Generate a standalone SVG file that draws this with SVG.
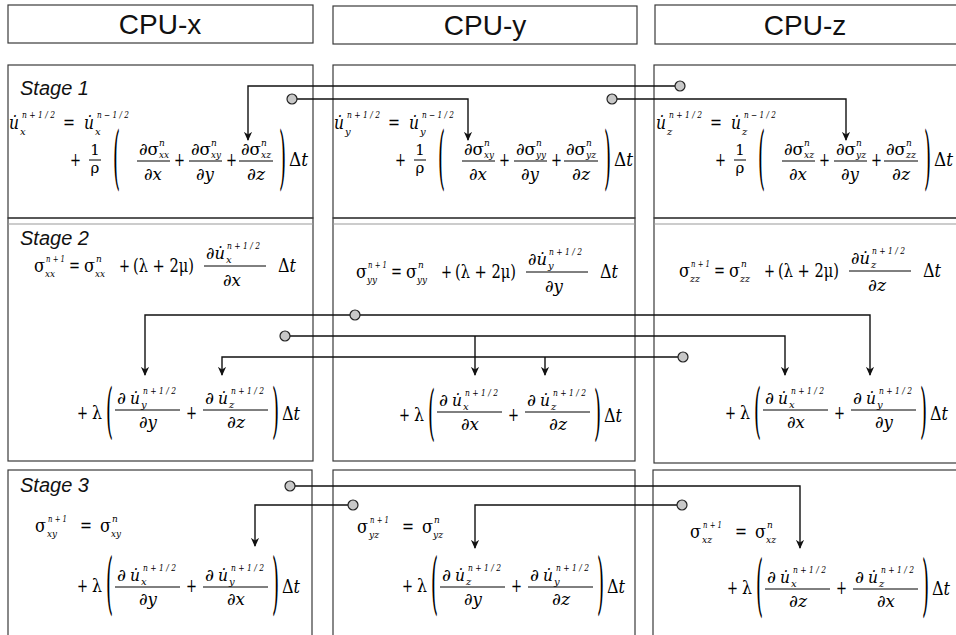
<svg xmlns="http://www.w3.org/2000/svg" width="956" height="635" viewBox="0 0 956 635">
<style>
.bx{fill:none;stroke:#3a3a3a;stroke-width:1.2}
.dl{stroke:#9a9a9a;stroke-width:1.2}
.hd{font-family:"Liberation Sans",Arial,sans-serif;font-size:28px;fill:#111}
.st{font-family:"Liberation Sans",Arial,sans-serif;font-size:20px;font-style:italic;fill:#111}
.m{font-family:"DejaVu Serif",serif;font-size:18px;fill:#000}
.f{font-family:"DejaVu Serif",serif;font-size:17px;fill:#000}
.i{font-style:italic}
.sp{font-family:"DejaVu Serif",serif;font-size:9px;font-style:italic;fill:#000}
.sb{font-family:"DejaVu Serif",serif;font-size:10px;font-style:italic;fill:#000}
.fb{stroke:#000;stroke-width:1}
.cn{fill:none;stroke:#111;stroke-width:1.4;marker-end:url(#ah)}
.cd{fill:#c8c8c8;stroke:#222;stroke-width:1.2}
</style>
<defs>
<marker id="ah" viewBox="0 0 10 10" refX="9" refY="5" markerWidth="9" markerHeight="10" markerUnits="userSpaceOnUse" orient="auto"><path d="M0,0.5 L10,5 L0,9.5 L3,5 z" fill="#111"/></marker>
</defs>
<rect width="956" height="635" fill="#fff"/>

<g id="hdr-x"><rect class="bx" x="8" y="5" width="305" height="38"/><text class="hd" x="160" y="34" text-anchor="middle">CPU-x</text></g>
<g id="hdr-y"><rect class="bx" x="333" y="6" width="304" height="38"/><text class="hd" x="485" y="35" text-anchor="middle">CPU-y</text></g>
<g id="hdr-z"><rect class="bx" x="655" y="5" width="310" height="39"/><text class="hd" x="805" y="35" text-anchor="middle">CPU-z</text></g>

<!-- Stage 1 -->
<g id="s1-x">
<rect class="bx" x="8" y="65" width="305" height="153"/>
<text class="st" x="20" y="95">Stage 1</text>
<g>
<text class="m i" x="9" y="129" textLength="10" lengthAdjust="spacingAndGlyphs">u&#x307;</text><text class="sp" x="22" y="118" textLength="33" lengthAdjust="spacingAndGlyphs">n + 1 / 2</text><text class="sb" x="20" y="135">x</text>
<text class="m" x="63" y="129" textLength="12" lengthAdjust="spacingAndGlyphs">=</text>
<text class="m i" x="84" y="129" textLength="10" lengthAdjust="spacingAndGlyphs">u&#x307;</text><text class="sp" x="97" y="118" textLength="32" lengthAdjust="spacingAndGlyphs">n − 1 / 2</text><text class="sb" x="95" y="135">x</text>
<text class="m" x="70" y="166" textLength="11" lengthAdjust="spacingAndGlyphs">+</text>
<text class="m" x="95" y="155" text-anchor="middle" style="font-size:15px">1</text><line class="fb" x1="89" y1="160" x2="101" y2="160"/><text class="m" x="95" y="173" text-anchor="middle" style="font-size:15px">ρ</text>
<text class="m" transform="translate(113,160) scale(1,3.8)" y="5.6">(</text>
<text class="f" x="139" y="155" textLength="20" lengthAdjust="spacingAndGlyphs">∂σ</text><text class="sp" x="159" y="146">n</text><text class="sb" x="159" y="158" textLength="10" lengthAdjust="spacingAndGlyphs">xx</text><line class="fb" x1="137" y1="161" x2="170" y2="161"/><text class="f" x="153" y="180" text-anchor="middle" textLength="18" lengthAdjust="spacingAndGlyphs">∂<tspan class="i">x</tspan></text>
<text class="m" x="174" y="166" textLength="11" lengthAdjust="spacingAndGlyphs">+</text>
<text class="f" x="191" y="155" textLength="20" lengthAdjust="spacingAndGlyphs">∂σ</text><text class="sp" x="211" y="146">n</text><text class="sb" x="211" y="158" textLength="10" lengthAdjust="spacingAndGlyphs">xy</text><line class="fb" x1="189" y1="161" x2="222" y2="161"/><text class="f" x="205" y="180" text-anchor="middle" textLength="18" lengthAdjust="spacingAndGlyphs">∂<tspan class="i">y</tspan></text>
<text class="m" x="226" y="166" textLength="11" lengthAdjust="spacingAndGlyphs">+</text>
<text class="f" x="241" y="155" textLength="20" lengthAdjust="spacingAndGlyphs">∂σ</text><text class="sp" x="261" y="146">n</text><text class="sb" x="261" y="158" textLength="10" lengthAdjust="spacingAndGlyphs">xz</text><line class="fb" x1="239" y1="161" x2="273" y2="161"/><text class="f" x="256" y="180" text-anchor="middle" textLength="18" lengthAdjust="spacingAndGlyphs">∂<tspan class="i">z</tspan></text>
<text class="m" transform="translate(279,160) scale(1,3.8)" y="5.6">)</text>
<text class="m" x="289" y="166" textLength="19" lengthAdjust="spacingAndGlyphs">Δ<tspan class="i">t</tspan></text>
</g>
</g>

<g id="s1-y">
<rect class="bx" x="333" y="65" width="302" height="153"/>
<g transform="translate(325,0)">
<text class="m i" x="9" y="129" textLength="10" lengthAdjust="spacingAndGlyphs">u&#x307;</text><text class="sp" x="22" y="118" textLength="33" lengthAdjust="spacingAndGlyphs">n + 1 / 2</text><text class="sb" x="20" y="135">y</text>
<text class="m" x="63" y="129" textLength="12" lengthAdjust="spacingAndGlyphs">=</text>
<text class="m i" x="84" y="129" textLength="10" lengthAdjust="spacingAndGlyphs">u&#x307;</text><text class="sp" x="97" y="118" textLength="32" lengthAdjust="spacingAndGlyphs">n − 1 / 2</text><text class="sb" x="95" y="135">y</text>
<text class="m" x="70" y="166" textLength="11" lengthAdjust="spacingAndGlyphs">+</text>
<text class="m" x="95" y="155" text-anchor="middle" style="font-size:15px">1</text><line class="fb" x1="89" y1="160" x2="101" y2="160"/><text class="m" x="95" y="173" text-anchor="middle" style="font-size:15px">ρ</text>
<text class="m" transform="translate(113,160) scale(1,3.8)" y="5.6">(</text>
<text class="f" x="139" y="155" textLength="20" lengthAdjust="spacingAndGlyphs">∂σ</text><text class="sp" x="159" y="146">n</text><text class="sb" x="159" y="158" textLength="10" lengthAdjust="spacingAndGlyphs">xy</text><line class="fb" x1="137" y1="161" x2="170" y2="161"/><text class="f" x="153" y="180" text-anchor="middle" textLength="18" lengthAdjust="spacingAndGlyphs">∂<tspan class="i">x</tspan></text>
<text class="m" x="174" y="166" textLength="11" lengthAdjust="spacingAndGlyphs">+</text>
<text class="f" x="191" y="155" textLength="20" lengthAdjust="spacingAndGlyphs">∂σ</text><text class="sp" x="211" y="146">n</text><text class="sb" x="211" y="158" textLength="10" lengthAdjust="spacingAndGlyphs">yy</text><line class="fb" x1="189" y1="161" x2="222" y2="161"/><text class="f" x="205" y="180" text-anchor="middle" textLength="18" lengthAdjust="spacingAndGlyphs">∂<tspan class="i">y</tspan></text>
<text class="m" x="226" y="166" textLength="11" lengthAdjust="spacingAndGlyphs">+</text>
<text class="f" x="241" y="155" textLength="20" lengthAdjust="spacingAndGlyphs">∂σ</text><text class="sp" x="261" y="146">n</text><text class="sb" x="261" y="158" textLength="10" lengthAdjust="spacingAndGlyphs">yz</text><line class="fb" x1="239" y1="161" x2="273" y2="161"/><text class="f" x="256" y="180" text-anchor="middle" textLength="18" lengthAdjust="spacingAndGlyphs">∂<tspan class="i">z</tspan></text>
<text class="m" transform="translate(279,160) scale(1,3.8)" y="5.6">)</text>
<text class="m" x="289" y="166" textLength="19" lengthAdjust="spacingAndGlyphs">Δ<tspan class="i">t</tspan></text>
</g>
</g>

<g id="s1-z">
<rect class="bx" x="654" y="65" width="310" height="153"/>
<g transform="translate(645,0)">
<text class="m i" x="11" y="129" textLength="10" lengthAdjust="spacingAndGlyphs">u&#x307;</text><text class="sp" x="24" y="118" textLength="33" lengthAdjust="spacingAndGlyphs">n + 1 / 2</text><text class="sb" x="22" y="135">z</text>
<text class="m" x="65" y="129" textLength="12" lengthAdjust="spacingAndGlyphs">=</text>
<text class="m i" x="86" y="129" textLength="10" lengthAdjust="spacingAndGlyphs">u&#x307;</text><text class="sp" x="99" y="118" textLength="32" lengthAdjust="spacingAndGlyphs">n − 1 / 2</text><text class="sb" x="97" y="135">z</text>
<text class="m" x="70" y="166" textLength="11" lengthAdjust="spacingAndGlyphs">+</text>
<text class="m" x="95" y="155" text-anchor="middle" style="font-size:15px">1</text><line class="fb" x1="89" y1="160" x2="101" y2="160"/><text class="m" x="95" y="173" text-anchor="middle" style="font-size:15px">ρ</text>
<text class="m" transform="translate(113,160) scale(1,3.8)" y="5.6">(</text>
<text class="f" x="139" y="155" textLength="20" lengthAdjust="spacingAndGlyphs">∂σ</text><text class="sp" x="159" y="146">n</text><text class="sb" x="159" y="158" textLength="10" lengthAdjust="spacingAndGlyphs">xz</text><line class="fb" x1="137" y1="161" x2="170" y2="161"/><text class="f" x="153" y="180" text-anchor="middle" textLength="18" lengthAdjust="spacingAndGlyphs">∂<tspan class="i">x</tspan></text>
<text class="m" x="174" y="166" textLength="11" lengthAdjust="spacingAndGlyphs">+</text>
<text class="f" x="191" y="155" textLength="20" lengthAdjust="spacingAndGlyphs">∂σ</text><text class="sp" x="211" y="146">n</text><text class="sb" x="211" y="158" textLength="10" lengthAdjust="spacingAndGlyphs">yz</text><line class="fb" x1="189" y1="161" x2="222" y2="161"/><text class="f" x="205" y="180" text-anchor="middle" textLength="18" lengthAdjust="spacingAndGlyphs">∂<tspan class="i">y</tspan></text>
<text class="m" x="226" y="166" textLength="11" lengthAdjust="spacingAndGlyphs">+</text>
<text class="f" x="241" y="155" textLength="20" lengthAdjust="spacingAndGlyphs">∂σ</text><text class="sp" x="261" y="146">n</text><text class="sb" x="261" y="158" textLength="10" lengthAdjust="spacingAndGlyphs">zz</text><line class="fb" x1="239" y1="161" x2="273" y2="161"/><text class="f" x="256" y="180" text-anchor="middle" textLength="18" lengthAdjust="spacingAndGlyphs">∂<tspan class="i">z</tspan></text>
<text class="m" transform="translate(279,160) scale(1,3.8)" y="5.6">)</text>
<text class="m" x="289" y="166" textLength="19" lengthAdjust="spacingAndGlyphs">Δ<tspan class="i">t</tspan></text>
</g>
</g>

<!-- Stage 2 -->
<g id="s2-x">
<rect class="bx" x="8" y="218" width="305" height="243"/><line class="dl" x1="8" y1="224" x2="313" y2="224"/>
<text class="st" x="20" y="245">Stage 2</text>
<g>
<text class="m" x="34" y="272" textLength="11" lengthAdjust="spacingAndGlyphs">σ</text><text class="sp" x="46" y="262" textLength="19" lengthAdjust="spacingAndGlyphs">n + 1</text><text class="sb" x="45" y="277" textLength="10" lengthAdjust="spacingAndGlyphs">xx</text>
<text class="m" x="69" y="272" textLength="11" lengthAdjust="spacingAndGlyphs">=</text>
<text class="m" x="84" y="272" textLength="11" lengthAdjust="spacingAndGlyphs">σ</text><text class="sp" x="96" y="262">n</text><text class="sb" x="95" y="277" textLength="10" lengthAdjust="spacingAndGlyphs">xx</text>
<text class="m" x="119" y="272" textLength="11" lengthAdjust="spacingAndGlyphs">+</text>
<text class="m" x="133" y="272" textLength="61" lengthAdjust="spacingAndGlyphs">(λ + 2μ)</text>
<text class="f" x="206" y="259" textLength="19" lengthAdjust="spacingAndGlyphs">∂<tspan class="i">u&#x307;</tspan></text><text class="sp" x="227" y="249" textLength="33" lengthAdjust="spacingAndGlyphs">n + 1 / 2</text><text class="sb" x="226" y="263">x</text>
<line class="fb" x1="204" y1="266" x2="266" y2="266"/><text class="f" x="232" y="286" text-anchor="middle" textLength="18" lengthAdjust="spacingAndGlyphs">∂<tspan class="i">x</tspan></text>
<text class="m" x="278" y="272" textLength="18" lengthAdjust="spacingAndGlyphs">Δ<tspan class="i">t</tspan></text>
</g>
<g>
<text class="m" x="77" y="419" textLength="11" lengthAdjust="spacingAndGlyphs">+</text><text class="m" x="92" y="419" textLength="10" lengthAdjust="spacingAndGlyphs">λ</text>
<text class="m" transform="translate(106,413) scale(1,3.3)" y="5.6">(</text>
<text class="f" x="117" y="404" textLength="9" lengthAdjust="spacingAndGlyphs">∂</text><text class="f i" x="130" y="404" textLength="10" lengthAdjust="spacingAndGlyphs">u&#x307;</text><text class="sp" x="143" y="394" textLength="33" lengthAdjust="spacingAndGlyphs">n + 1 / 2</text><text class="sb" x="141" y="408">y</text>
<line class="fb" x1="115" y1="410" x2="180" y2="410"/><text class="f" x="148" y="428" text-anchor="middle" textLength="18" lengthAdjust="spacingAndGlyphs">∂<tspan class="i">y</tspan></text>
<text class="m" x="186" y="419" textLength="11" lengthAdjust="spacingAndGlyphs">+</text>
<text class="f" x="205" y="404" textLength="9" lengthAdjust="spacingAndGlyphs">∂</text><text class="f i" x="218" y="404" textLength="10" lengthAdjust="spacingAndGlyphs">u&#x307;</text><text class="sp" x="231" y="394" textLength="33" lengthAdjust="spacingAndGlyphs">n + 1 / 2</text><text class="sb" x="229" y="408">z</text>
<line class="fb" x1="203" y1="410" x2="268" y2="410"/><text class="f" x="236" y="428" text-anchor="middle" textLength="18" lengthAdjust="spacingAndGlyphs">∂<tspan class="i">z</tspan></text>
<text class="m" transform="translate(272,413) scale(1,3.3)" y="5.6">)</text>
<text class="m" x="282" y="420" textLength="18" lengthAdjust="spacingAndGlyphs">Δ<tspan class="i">t</tspan></text>
</g>
</g>

<g id="s2-y">
<rect class="bx" x="333" y="218" width="302" height="243"/><line class="dl" x1="333" y1="224" x2="635" y2="224"/>
<g transform="translate(322,6)">
<text class="m" x="34" y="272" textLength="11" lengthAdjust="spacingAndGlyphs">σ</text><text class="sp" x="46" y="262" textLength="19" lengthAdjust="spacingAndGlyphs">n + 1</text><text class="sb" x="45" y="277" textLength="10" lengthAdjust="spacingAndGlyphs">yy</text>
<text class="m" x="69" y="272" textLength="11" lengthAdjust="spacingAndGlyphs">=</text>
<text class="m" x="84" y="272" textLength="11" lengthAdjust="spacingAndGlyphs">σ</text><text class="sp" x="96" y="262">n</text><text class="sb" x="95" y="277" textLength="10" lengthAdjust="spacingAndGlyphs">yy</text>
<text class="m" x="119" y="272" textLength="11" lengthAdjust="spacingAndGlyphs">+</text>
<text class="m" x="133" y="272" textLength="61" lengthAdjust="spacingAndGlyphs">(λ + 2μ)</text>
<text class="f" x="206" y="259" textLength="19" lengthAdjust="spacingAndGlyphs">∂<tspan class="i">u&#x307;</tspan></text><text class="sp" x="227" y="249" textLength="33" lengthAdjust="spacingAndGlyphs">n + 1 / 2</text><text class="sb" x="226" y="263">y</text>
<line class="fb" x1="204" y1="266" x2="266" y2="266"/><text class="f" x="232" y="286" text-anchor="middle" textLength="18" lengthAdjust="spacingAndGlyphs">∂<tspan class="i">y</tspan></text>
<text class="m" x="278" y="272" textLength="18" lengthAdjust="spacingAndGlyphs">Δ<tspan class="i">t</tspan></text>
</g>
<g transform="translate(322,2)">
<text class="m" x="77" y="419" textLength="11" lengthAdjust="spacingAndGlyphs">+</text><text class="m" x="92" y="419" textLength="10" lengthAdjust="spacingAndGlyphs">λ</text>
<text class="m" transform="translate(106,413) scale(1,3.3)" y="5.6">(</text>
<text class="f" x="117" y="404" textLength="9" lengthAdjust="spacingAndGlyphs">∂</text><text class="f i" x="130" y="404" textLength="10" lengthAdjust="spacingAndGlyphs">u&#x307;</text><text class="sp" x="143" y="394" textLength="33" lengthAdjust="spacingAndGlyphs">n + 1 / 2</text><text class="sb" x="141" y="408">x</text>
<line class="fb" x1="115" y1="410" x2="180" y2="410"/><text class="f" x="148" y="428" text-anchor="middle" textLength="18" lengthAdjust="spacingAndGlyphs">∂<tspan class="i">x</tspan></text>
<text class="m" x="186" y="419" textLength="11" lengthAdjust="spacingAndGlyphs">+</text>
<text class="f" x="205" y="404" textLength="9" lengthAdjust="spacingAndGlyphs">∂</text><text class="f i" x="218" y="404" textLength="10" lengthAdjust="spacingAndGlyphs">u&#x307;</text><text class="sp" x="231" y="394" textLength="33" lengthAdjust="spacingAndGlyphs">n + 1 / 2</text><text class="sb" x="229" y="408">z</text>
<line class="fb" x1="203" y1="410" x2="268" y2="410"/><text class="f" x="236" y="428" text-anchor="middle" textLength="18" lengthAdjust="spacingAndGlyphs">∂<tspan class="i">z</tspan></text>
<text class="m" transform="translate(272,413) scale(1,3.3)" y="5.6">)</text>
<text class="m" x="282" y="420" textLength="18" lengthAdjust="spacingAndGlyphs">Δ<tspan class="i">t</tspan></text>
</g>
</g>

<g id="s2-z">
<rect class="bx" x="654" y="218" width="310" height="245"/><line class="dl" x1="654" y1="224" x2="956" y2="224"/>
<g transform="translate(645,5)">
<text class="m" x="34" y="272" textLength="11" lengthAdjust="spacingAndGlyphs">σ</text><text class="sp" x="46" y="262" textLength="19" lengthAdjust="spacingAndGlyphs">n + 1</text><text class="sb" x="45" y="277" textLength="10" lengthAdjust="spacingAndGlyphs">zz</text>
<text class="m" x="69" y="272" textLength="11" lengthAdjust="spacingAndGlyphs">=</text>
<text class="m" x="84" y="272" textLength="11" lengthAdjust="spacingAndGlyphs">σ</text><text class="sp" x="96" y="262">n</text><text class="sb" x="95" y="277" textLength="10" lengthAdjust="spacingAndGlyphs">zz</text>
<text class="m" x="119" y="272" textLength="11" lengthAdjust="spacingAndGlyphs">+</text>
<text class="m" x="133" y="272" textLength="61" lengthAdjust="spacingAndGlyphs">(λ + 2μ)</text>
<text class="f" x="206" y="259" textLength="19" lengthAdjust="spacingAndGlyphs">∂<tspan class="i">u&#x307;</tspan></text><text class="sp" x="227" y="249" textLength="33" lengthAdjust="spacingAndGlyphs">n + 1 / 2</text><text class="sb" x="226" y="263">z</text>
<line class="fb" x1="204" y1="266" x2="266" y2="266"/><text class="f" x="232" y="286" text-anchor="middle" textLength="18" lengthAdjust="spacingAndGlyphs">∂<tspan class="i">z</tspan></text>
<text class="m" x="278" y="272" textLength="18" lengthAdjust="spacingAndGlyphs">Δ<tspan class="i">t</tspan></text>
</g>
<g transform="translate(648,0)">
<text class="m" x="77" y="419" textLength="11" lengthAdjust="spacingAndGlyphs">+</text><text class="m" x="92" y="419" textLength="10" lengthAdjust="spacingAndGlyphs">λ</text>
<text class="m" transform="translate(106,413) scale(1,3.3)" y="5.6">(</text>
<text class="f" x="117" y="404" textLength="9" lengthAdjust="spacingAndGlyphs">∂</text><text class="f i" x="130" y="404" textLength="10" lengthAdjust="spacingAndGlyphs">u&#x307;</text><text class="sp" x="143" y="394" textLength="33" lengthAdjust="spacingAndGlyphs">n + 1 / 2</text><text class="sb" x="141" y="408">x</text>
<line class="fb" x1="115" y1="410" x2="180" y2="410"/><text class="f" x="148" y="428" text-anchor="middle" textLength="18" lengthAdjust="spacingAndGlyphs">∂<tspan class="i">x</tspan></text>
<text class="m" x="186" y="419" textLength="11" lengthAdjust="spacingAndGlyphs">+</text>
<text class="f" x="205" y="404" textLength="9" lengthAdjust="spacingAndGlyphs">∂</text><text class="f i" x="218" y="404" textLength="10" lengthAdjust="spacingAndGlyphs">u&#x307;</text><text class="sp" x="231" y="394" textLength="33" lengthAdjust="spacingAndGlyphs">n + 1 / 2</text><text class="sb" x="229" y="408">y</text>
<line class="fb" x1="203" y1="410" x2="268" y2="410"/><text class="f" x="236" y="428" text-anchor="middle" textLength="18" lengthAdjust="spacingAndGlyphs">∂<tspan class="i">y</tspan></text>
<text class="m" transform="translate(272,413) scale(1,3.3)" y="5.6">)</text>
<text class="m" x="282" y="420" textLength="18" lengthAdjust="spacingAndGlyphs">Δ<tspan class="i">t</tspan></text>
</g>
</g>

<!-- Stage 3 -->
<g id="s3-x">
<rect class="bx" x="8" y="470" width="304" height="200"/>
<text class="st" x="20" y="492">Stage 3</text>
<g>
<text class="m" x="35" y="532" textLength="11" lengthAdjust="spacingAndGlyphs">σ</text><text class="sp" x="48" y="522" textLength="19" lengthAdjust="spacingAndGlyphs">n + 1</text><text class="sb" x="47" y="537" textLength="10" lengthAdjust="spacingAndGlyphs">xy</text>
<text class="m" x="80" y="532" textLength="12" lengthAdjust="spacingAndGlyphs">=</text>
<text class="m" x="100" y="532" textLength="11" lengthAdjust="spacingAndGlyphs">σ</text><text class="sp" x="112" y="522">n</text><text class="sb" x="111" y="537" textLength="10" lengthAdjust="spacingAndGlyphs">xy</text>
</g>
<g transform="translate(0,177)">
<text class="m" x="77" y="415" textLength="11" lengthAdjust="spacingAndGlyphs">+</text><text class="m" x="92" y="415" textLength="10" lengthAdjust="spacingAndGlyphs">λ</text>
<text class="m" transform="translate(106,408) scale(1,3.7)" y="5.6">(</text>
<text class="f" x="117" y="404" textLength="9" lengthAdjust="spacingAndGlyphs">∂</text><text class="f i" x="130" y="404" textLength="10" lengthAdjust="spacingAndGlyphs">u&#x307;</text><text class="sp" x="143" y="394" textLength="33" lengthAdjust="spacingAndGlyphs">n + 1 / 2</text><text class="sb" x="141" y="408">x</text>
<line class="fb" x1="115" y1="410" x2="180" y2="410"/><text class="f" x="148" y="428" text-anchor="middle" textLength="18" lengthAdjust="spacingAndGlyphs">∂<tspan class="i">y</tspan></text>
<text class="m" x="186" y="415" textLength="11" lengthAdjust="spacingAndGlyphs">+</text>
<text class="f" x="205" y="404" textLength="9" lengthAdjust="spacingAndGlyphs">∂</text><text class="f i" x="218" y="404" textLength="10" lengthAdjust="spacingAndGlyphs">u&#x307;</text><text class="sp" x="231" y="394" textLength="33" lengthAdjust="spacingAndGlyphs">n + 1 / 2</text><text class="sb" x="229" y="408">y</text>
<line class="fb" x1="203" y1="410" x2="268" y2="410"/><text class="f" x="236" y="428" text-anchor="middle" textLength="18" lengthAdjust="spacingAndGlyphs">∂<tspan class="i">x</tspan></text>
<text class="m" transform="translate(272,408) scale(1,3.7)" y="5.6">)</text>
<text class="m" x="282" y="416" textLength="18" lengthAdjust="spacingAndGlyphs">Δ<tspan class="i">t</tspan></text>
</g>
</g>

<g id="s3-y">
<rect class="bx" x="333" y="470" width="302" height="200"/>
<g transform="translate(322,1)">
<text class="m" x="35" y="532" textLength="11" lengthAdjust="spacingAndGlyphs">σ</text><text class="sp" x="48" y="522" textLength="19" lengthAdjust="spacingAndGlyphs">n + 1</text><text class="sb" x="47" y="537" textLength="10" lengthAdjust="spacingAndGlyphs">yz</text>
<text class="m" x="80" y="532" textLength="12" lengthAdjust="spacingAndGlyphs">=</text>
<text class="m" x="100" y="532" textLength="11" lengthAdjust="spacingAndGlyphs">σ</text><text class="sp" x="112" y="522">n</text><text class="sb" x="111" y="537" textLength="10" lengthAdjust="spacingAndGlyphs">yz</text>
</g>
<g transform="translate(325,177)">
<text class="m" x="77" y="415" textLength="11" lengthAdjust="spacingAndGlyphs">+</text><text class="m" x="92" y="415" textLength="10" lengthAdjust="spacingAndGlyphs">λ</text>
<text class="m" transform="translate(106,408) scale(1,3.7)" y="5.6">(</text>
<text class="f" x="117" y="404" textLength="9" lengthAdjust="spacingAndGlyphs">∂</text><text class="f i" x="130" y="404" textLength="10" lengthAdjust="spacingAndGlyphs">u&#x307;</text><text class="sp" x="143" y="394" textLength="33" lengthAdjust="spacingAndGlyphs">n + 1 / 2</text><text class="sb" x="141" y="408">z</text>
<line class="fb" x1="115" y1="410" x2="180" y2="410"/><text class="f" x="148" y="428" text-anchor="middle" textLength="18" lengthAdjust="spacingAndGlyphs">∂<tspan class="i">y</tspan></text>
<text class="m" x="186" y="415" textLength="11" lengthAdjust="spacingAndGlyphs">+</text>
<text class="f" x="205" y="404" textLength="9" lengthAdjust="spacingAndGlyphs">∂</text><text class="f i" x="218" y="404" textLength="10" lengthAdjust="spacingAndGlyphs">u&#x307;</text><text class="sp" x="231" y="394" textLength="33" lengthAdjust="spacingAndGlyphs">n + 1 / 2</text><text class="sb" x="229" y="408">y</text>
<line class="fb" x1="203" y1="410" x2="268" y2="410"/><text class="f" x="236" y="428" text-anchor="middle" textLength="18" lengthAdjust="spacingAndGlyphs">∂<tspan class="i">z</tspan></text>
<text class="m" transform="translate(272,408) scale(1,3.7)" y="5.6">)</text>
<text class="m" x="282" y="416" textLength="18" lengthAdjust="spacingAndGlyphs">Δ<tspan class="i">t</tspan></text>
</g>
</g>

<g id="s3-z">
<rect class="bx" x="653" y="470" width="310" height="200"/>
<g transform="translate(655,6)">
<text class="m" x="35" y="532" textLength="11" lengthAdjust="spacingAndGlyphs">σ</text><text class="sp" x="48" y="522" textLength="19" lengthAdjust="spacingAndGlyphs">n + 1</text><text class="sb" x="47" y="537" textLength="10" lengthAdjust="spacingAndGlyphs">xz</text>
<text class="m" x="80" y="532" textLength="12" lengthAdjust="spacingAndGlyphs">=</text>
<text class="m" x="100" y="532" textLength="11" lengthAdjust="spacingAndGlyphs">σ</text><text class="sp" x="112" y="522">n</text><text class="sb" x="111" y="537" textLength="10" lengthAdjust="spacingAndGlyphs">xz</text>
</g>
<g transform="translate(650,179)">
<text class="m" x="77" y="415" textLength="11" lengthAdjust="spacingAndGlyphs">+</text><text class="m" x="92" y="415" textLength="10" lengthAdjust="spacingAndGlyphs">λ</text>
<text class="m" transform="translate(106,408) scale(1,3.7)" y="5.6">(</text>
<text class="f" x="117" y="404" textLength="9" lengthAdjust="spacingAndGlyphs">∂</text><text class="f i" x="130" y="404" textLength="10" lengthAdjust="spacingAndGlyphs">u&#x307;</text><text class="sp" x="143" y="394" textLength="33" lengthAdjust="spacingAndGlyphs">n + 1 / 2</text><text class="sb" x="141" y="408">x</text>
<line class="fb" x1="115" y1="410" x2="180" y2="410"/><text class="f" x="148" y="428" text-anchor="middle" textLength="18" lengthAdjust="spacingAndGlyphs">∂<tspan class="i">z</tspan></text>
<text class="m" x="186" y="415" textLength="11" lengthAdjust="spacingAndGlyphs">+</text>
<text class="f" x="205" y="404" textLength="9" lengthAdjust="spacingAndGlyphs">∂</text><text class="f i" x="218" y="404" textLength="10" lengthAdjust="spacingAndGlyphs">u&#x307;</text><text class="sp" x="231" y="394" textLength="33" lengthAdjust="spacingAndGlyphs">n + 1 / 2</text><text class="sb" x="229" y="408">z</text>
<line class="fb" x1="203" y1="410" x2="268" y2="410"/><text class="f" x="236" y="428" text-anchor="middle" textLength="18" lengthAdjust="spacingAndGlyphs">∂<tspan class="i">x</tspan></text>
<text class="m" transform="translate(272,408) scale(1,3.7)" y="5.6">)</text>
<text class="m" x="282" y="416" textLength="18" lengthAdjust="spacingAndGlyphs">Δ<tspan class="i">t</tspan></text>
</g>
</g>

<g id="connectors">
<path class="cn" d="M675,86 H248 V140"/>
<path class="cn" d="M297,99 H468 V140"/>
<path class="cn" d="M617,99 H846 V140"/>
<path class="cn" d="M350,315 H145 V375"/>
<path class="cn" d="M360,315 H870 V375"/>
<path class="cn" d="M290,336 H785 V375"/>
<path class="cn" d="M475,336 V375"/>
<path class="cn" d="M678,357 H222 V375"/>
<path class="cn" d="M545,357 V375"/>
<path class="cn" d="M295,486 H800 V548"/>
<path class="cn" d="M348,505 H255 V546"/>
<path class="cn" d="M677,505 H475 V548"/>
<circle class="cd" cx="680" cy="86" r="5"/>
<circle class="cd" cx="292" cy="99" r="5"/>
<circle class="cd" cx="612" cy="99" r="5"/>
<circle class="cd" cx="355" cy="315" r="5"/>
<circle class="cd" cx="285" cy="336" r="5"/>
<circle class="cd" cx="683" cy="357" r="5"/>
<circle class="cd" cx="290" cy="486" r="5"/>
<circle class="cd" cx="353" cy="505" r="5"/>
<circle class="cd" cx="682" cy="505" r="5"/>
</g>
</svg>
